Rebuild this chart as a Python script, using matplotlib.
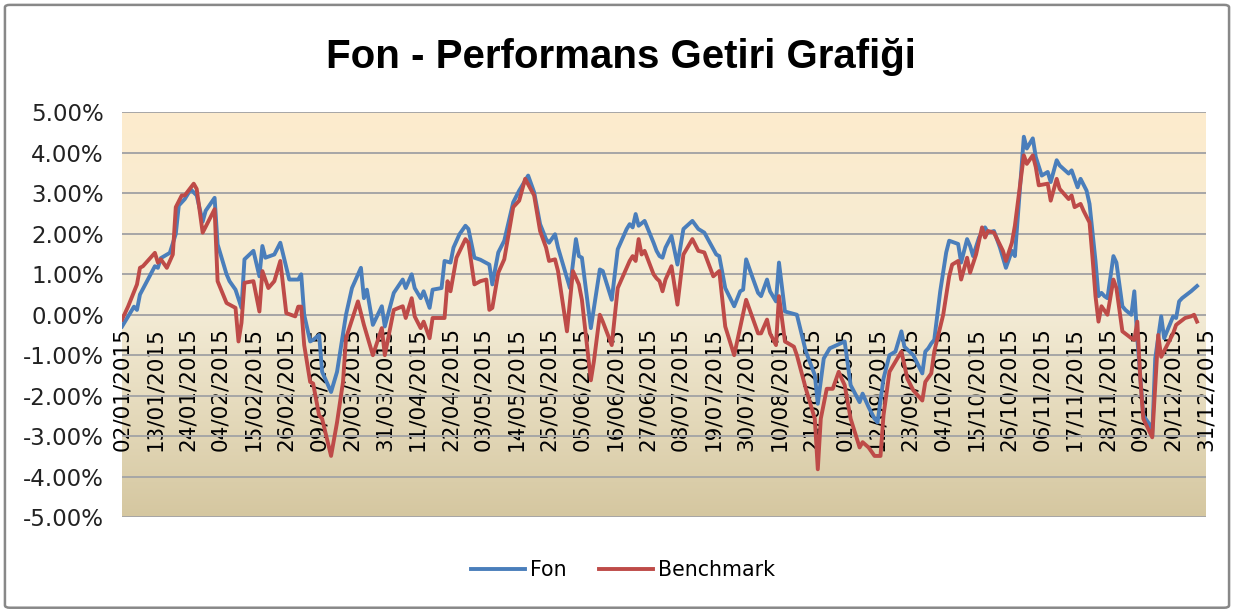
import numpy as np
import pandas as pd
import matplotlib
matplotlib.use("Agg")
import matplotlib.pyplot as plt
import matplotlib.dates as mdates
from matplotlib.patches import FancyBboxPatch
from matplotlib.ticker import FuncFormatter, MultipleLocator

# days counted from 02/01/2015, values in percent
fon_days = [0, 4, 5, 6, 11, 12, 13, 16, 18, 19, 21, 23, 25, 27, 28, 31, 32, 35, 36, 38,
            40, 41, 44, 46, 47, 48, 51, 53, 56, 59, 60, 61, 63, 64, 66, 67, 70, 72, 74, 75,
            77, 80, 81, 82, 84, 87, 88, 91, 94, 95, 97, 98, 100, 101, 103, 104, 107, 108, 110, 111,
            113, 115, 116, 118, 120, 123, 124, 126, 128, 131, 133, 136, 138, 140, 142, 143, 145, 146, 150, 152,
            153, 154, 157, 160, 161, 164, 166, 169, 170, 171, 172, 173, 175, 178, 179, 180, 181, 182, 184, 186,
            188, 191, 193, 195, 199, 200, 202, 205, 207, 208, 209, 211, 213, 214, 216, 217, 219, 220, 222, 224,
            226, 229, 232, 233, 235, 237, 240, 242, 244, 247, 248, 250, 252, 253, 255, 257, 259, 261, 262, 265,
            268, 269, 270, 271, 272, 274, 276, 277, 280, 281, 283, 284, 285, 287, 289, 290, 292, 294, 296, 298,
            299, 302, 303, 305, 306, 308, 310, 311, 313, 314, 317, 318, 320, 321, 323, 324, 326, 327, 328, 329,
            330, 332, 333, 335, 336, 338, 339, 340, 342, 344, 345, 346, 348, 349, 352, 353, 354, 355, 358, 360]
fon_values = [-0.29, 0.20, 0.12, 0.50, 1.20, 1.16, 1.40, 1.53, 2.00, 2.70, 2.86, 3.10, 2.95, 2.30, 2.57, 2.89, 1.74, 1.00, 0.83, 0.62,
              0.17, 1.37, 1.58, 0.95, 1.70, 1.41, 1.49, 1.78, 0.87, 0.87, 1.00, 0.00, -0.66, -0.62, -0.50, -1.41, -1.91, -1.41, -0.46, 0.00,
              0.66, 1.16, 0.41, 0.62, -0.25, 0.21, -0.29, 0.54, 0.87, 0.66, 1.00, 0.66, 0.41, 0.58, 0.17, 0.62, 0.66, 1.33, 1.29, 1.66,
              1.99, 2.20, 2.12, 1.41, 1.36, 1.24, 0.75, 1.54, 1.83, 2.78, 3.07, 3.44, 3.03, 2.24, 1.87, 1.78, 1.99, 1.66, 0.66, 1.87,
              1.45, 1.41, -0.33, 1.12, 1.08, 0.37, 1.62, 2.12, 2.24, 2.16, 2.49, 2.20, 2.32, 1.78, 1.58, 1.45, 1.41, 1.66, 1.95, 1.24,
              2.12, 2.32, 2.12, 2.03, 1.49, 1.45, 0.66, 0.21, 0.58, 0.62, 1.37, 0.95, 0.54, 0.46, 0.87, 0.58, 0.33, 1.29, 0.08, 0.04,
              0.00, -0.91, -1.49, -2.20, -1.08, -0.83, -0.73, -0.66, -1.74, -2.16, -1.95, -2.28, -2.57, -2.66, -1.58, -1.00, -0.91, -0.41, -0.79, -1.00,
              -1.45, -0.91, -0.83, -0.71, -0.62, 0.58, 1.54, 1.83, 1.75, 1.29, 1.87, 1.70, 1.45, 1.91, 2.16, 2.03, 2.07, 1.66, 1.16, 1.58,
              1.45, 4.40, 4.11, 4.36, 3.90, 3.44, 3.53, 3.28, 3.82, 3.69, 3.49, 3.57, 3.15, 3.36, 3.07, 2.74, 1.33, 0.46, 0.54, 0.46,
              0.41, 1.45, 1.29, 0.21, 0.12, 0.00, 0.58, -0.58, -2.49, -2.70, -2.99, -1.08, -0.04, -0.58, -0.04, -0.08, 0.33, 0.41, 0.58, 0.71]

bench_days = [0, 2, 5, 6, 7, 11, 12, 13, 15, 17, 18, 20, 21, 24, 25, 27, 31, 32, 35, 38,
              39, 40, 41, 44, 46, 47, 49, 51, 53, 55, 58, 59, 60, 61, 63, 64, 66, 67, 70, 72,
              74, 75, 79, 81, 84, 87, 88, 91, 94, 95, 97, 98, 100, 101, 103, 104, 108, 109, 110, 112,
              115, 116, 118, 120, 122, 123, 124, 126, 128, 131, 133, 135, 138, 140, 142, 143, 145, 146, 149, 151,
              153, 154, 157, 158, 160, 161, 164, 166, 170, 171, 172, 173, 174, 175, 178, 179, 180, 181, 182, 184,
              186, 188, 191, 193, 195, 198, 200, 202, 205, 209, 213, 214, 216, 217, 219, 220, 222, 225, 226, 229,
              232, 233, 234, 236, 238, 240, 241, 242, 244, 247, 248, 250, 252, 254, 255, 257, 261, 263, 265, 268,
              269, 271, 272, 275, 277, 278, 280, 281, 283, 284, 286, 288, 289, 290, 292, 295, 296, 298, 299, 302,
              303, 305, 306, 307, 310, 311, 313, 314, 317, 318, 319, 321, 322, 324, 325, 326, 327, 328, 330, 332,
              333, 335, 338, 339, 340, 341, 342, 345, 347, 348, 350, 352, 353, 356, 358, 359, 360]
bench_values = [-0.12, 0.20, 0.75, 1.16, 1.20, 1.53, 1.29, 1.37, 1.16, 1.49, 2.66, 2.95, 2.95, 3.24, 3.11, 2.03, 2.61, 0.83, 0.29, 0.17,
                -0.66, -0.20, 0.79, 0.83, 0.08, 1.08, 0.66, 0.83, 1.33, 0.04, -0.04, 0.20, 0.20, -0.75, -1.66, -1.70, -2.49, -2.57, -3.49, -2.66,
                -1.66, -0.58, 0.33, -0.25, -1.00, -0.33, -1.00, 0.12, 0.21, -0.08, 0.41, -0.04, -0.33, -0.17, -0.58, -0.08, -0.08, 0.83, 0.58, 1.41,
                1.87, 1.78, 0.75, 0.83, 0.87, 0.12, 0.17, 1.04, 1.37, 2.66, 2.82, 3.36, 2.95, 2.07, 1.66, 1.33, 1.37, 1.08, -0.41, 1.08,
                0.75, 0.37, -1.62, -1.16, 0.00, -0.17, -0.75, 0.66, 1.33, 1.45, 1.33, 1.87, 1.49, 1.58, 1.00, 0.90, 0.83, 0.58, 0.87, 1.20,
                0.25, 1.49, 1.87, 1.58, 1.54, 0.95, 1.08, -0.29, -1.00, 0.37, -0.46, -0.46, -0.12, -0.46, -0.75, 0.46, -0.66, -0.79, -1.00, -1.83,
                -2.57, -3.82, -2.57, -1.83, -1.83, -1.41, -1.58, -1.74, -2.57, -3.28, -3.15, -3.28, -3.49, -3.49, -2.49, -1.41, -0.91, -1.58, -1.87, -2.12,
                -1.66, -1.45, -0.91, 0.00, 0.95, 1.24, 1.33, 0.87, 1.41, 1.04, 1.49, 2.16, 1.91, 2.07, 2.03, 1.58, 1.33, 1.78, 2.20, 3.94,
                3.73, 3.94, 3.65, 3.20, 3.24, 2.82, 3.36, 3.11, 2.86, 2.95, 2.66, 2.74, 2.57, 2.28, 1.41, 0.46, -0.17, 0.21, 0.00, 0.87,
                0.66, -0.41, -0.58, -0.62, -0.17, -1.58, -2.57, -3.03, -0.50, -1.04, -0.75, -0.46, -0.25, -0.08, -0.04, 0.00, -0.17]

series_names = ["Fon", "Benchmark"]
title = "Fon - Performans Getiri Grafiği"
start_date = "2015-01-02"
end_date = "2015-12-31"
tick_step_days = 11

plt.rcParams["font.family"] = ["DejaVu Sans"]

start = pd.Timestamp(start_date)
fon_x = start + pd.to_timedelta(fon_days, unit="D")
bench_x = start + pd.to_timedelta(bench_days, unit="D")
tick_dates = pd.date_range(start_date, end_date, freq=f"{tick_step_days}D")

fig = plt.figure(figsize=(12.34, 6.12), dpi=100)
ax = fig.add_axes([0.0989, 0.1552, 0.8784, 0.661])

# gradient background of the plot area
top_c = np.array([253, 236, 205]) / 255
mid_c = np.array([243, 235, 213]) / 255
bot_c = np.array([213, 199, 160]) / 255
t = np.linspace(0, 1, 256)[:, None]
grad = np.where(t < 0.5, top_c + (mid_c - top_c) * (t / 0.5),
                mid_c + (bot_c - mid_c) * ((t - 0.5) / 0.5))
ax.imshow(grad[:, None, :].repeat(2, axis=1), extent=[0, 1, 0, 1], transform=ax.transAxes,
          aspect="auto", zorder=0)

ax.plot(fon_x, fon_values, color="#4A7EBB", lw=2.8, label=series_names[0], zorder=3,
        solid_joinstyle="round")
ax.plot(bench_x, bench_values, color="#BE4B48", lw=2.8, label=series_names[1], zorder=4,
        solid_joinstyle="round")

ax.set_ylim(-5, 5)
ax.set_xlim(start, pd.Timestamp(end_date))
ax.yaxis.set_major_locator(MultipleLocator(1))
ax.yaxis.set_major_formatter(FuncFormatter(lambda v, p: f"{v:.2f}%"))
ax.set_axisbelow(True)
ax.yaxis.grid(True, color="#A6A6A6", lw=1.4)
for s in ["top", "right", "left"]:
    ax.spines[s].set_visible(False)
ax.spines["bottom"].set_position(("data", 0))
ax.spines["bottom"].set_visible(False)

ax.set_xticks(tick_dates)
ax.xaxis.set_major_formatter(mdates.DateFormatter("%d/%m/%Y"))
ax.tick_params(axis="x", length=0, labelsize=15.5, rotation=90, pad=9)
ax.tick_params(axis="y", length=0, labelsize=16.5, pad=13, colors="#222222")
for lbl in ax.get_xticklabels():
    lbl.set_verticalalignment("top")

fig.text(0.503, 0.907, title, ha="center", va="center", fontsize=29, fontweight="bold",
         family="Liberation Sans")

fig.legend(loc="center", bbox_to_anchor=(0.505, 0.068), ncol=2, frameon=False,
           fontsize=14.8, handlelength=2.6, columnspacing=1.6, handletextpad=0.25)

fig.patches.append(FancyBboxPatch((0.004, 0.007), 0.992, 0.985, boxstyle="round,pad=0,rounding_size=0.004",
                                  transform=fig.transFigure, fill=False, edgecolor="#888888", lw=1.8))

fig.savefig("out.png", dpi=100, facecolor="white")
